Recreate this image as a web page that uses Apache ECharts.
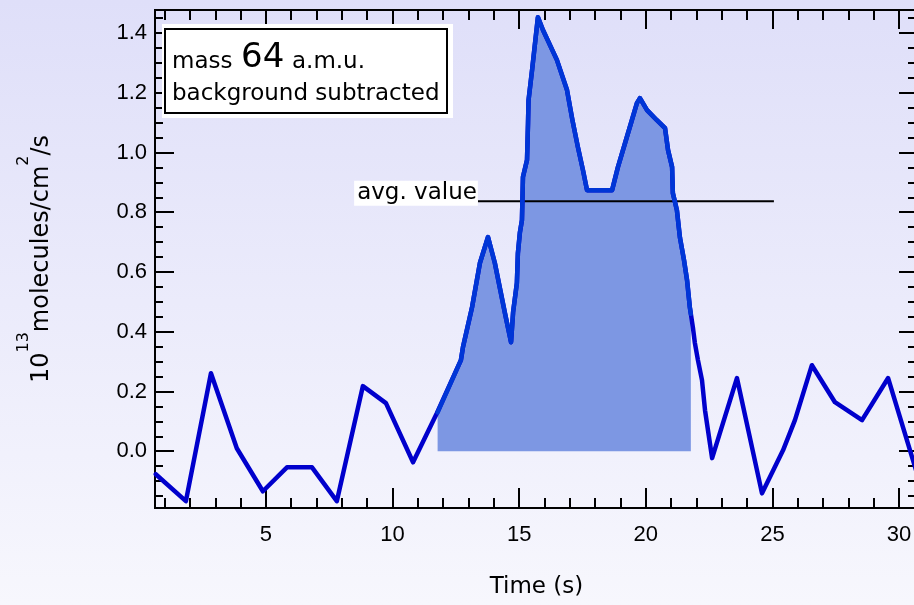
<!DOCTYPE html>
<html>
<head>
<meta charset="utf-8">
<title>mass 64 a.m.u.</title>
<script src="https://cdn.jsdelivr.net/npm/echarts@6/dist/echarts.min.js"></script>
<style>
  html, body { margin: 0; padding: 0; }
  #chart { width: 914px; height: 605px; background: linear-gradient(#dfdff9, #f7f7fd); }
</style>
</head>
<body>
<div id="chart"></div>
<script>
// time axis (s) and signal (10^13 molecules/cm^2/s)
var timeSec = [0.65, 1.84, 2.83, 3.85, 4.88, 5.83, 6.82, 7.80, 8.83, 9.74,
  10.81, 11.75, 12.70, 12.78, 13.14, 13.45, 13.77, 14.04, 14.44, 14.68,
  14.76, 14.91, 14.95, 15.03, 15.11, 15.15, 15.31, 15.35, 15.37, 15.51,
  15.74, 15.94, 16.49, 16.89, 17.10, 17.32, 17.52, 17.68, 18.67, 18.90,
  19.18, 19.45, 19.65, 19.77, 20.05, 20.44, 20.76, 20.88, 21.04, 21.07,
  21.23, 21.35, 21.51, 21.63, 21.74, 21.86, 21.94, 22.06, 22.22, 22.34,
  22.62, 23.60, 24.59, 25.42, 25.89, 26.56, 27.47, 28.54, 29.57, 30.75]
var signal = [-0.077, -0.167, 0.261, 0.010, -0.134, -0.054, -0.054, -0.167, 0.218, 0.161,
  -0.037, 0.127, 0.305, 0.348, 0.482, 0.630, 0.717, 0.630, 0.462, 0.365,
  0.465, 0.563, 0.663, 0.733, 0.774, 0.918, 0.975, 1.098, 1.175, 1.276,
  1.453, 1.410, 1.310, 1.209, 1.110, 1.018, 0.941, 0.874, 0.874, 0.951,
  1.031, 1.108, 1.165, 1.182, 1.142, 1.108, 1.082, 1.008, 0.951, 0.864,
  0.807, 0.715, 0.640, 0.573, 0.482, 0.415, 0.362, 0.305, 0.238, 0.137,
  -0.023, 0.245, -0.141, 0.003, 0.104, 0.288, 0.164, 0.104, 0.245, -0.085]

// shaded integration window (edges where the shading meets the trace)
var fillFrom = [11.78, 0.13]
var fillTo = [21.78, 0.46]

// average value line
var avgValue = 0.837
var avgSpan = [13.37, 25.06]

// ticks
var xMajorTicks = [5, 10, 15, 20, 25, 30]
var xMinorTicks = [1, 2, 3, 4, 6, 7, 8, 9, 11, 12, 13, 14, 16, 17, 18, 19,
  21, 22, 23, 24, 26, 27, 28, 29]
var yMajorTicks = [0, 0.2, 0.4, 0.6, 0.8, 1.0, 1.2, 1.4]
var yMinorTicks = [-0.15, -0.10, -0.05, 0.05, 0.10, 0.15, 0.25, 0.30, 0.35,
  0.45, 0.50, 0.55, 0.65, 0.70, 0.75, 0.85, 0.90, 0.95, 1.05, 1.10, 1.15,
  1.25, 1.30, 1.35, 1.45]

var X_MIN = 0.62, X_MAX = 30.75
var Y_MIN = -0.19, Y_MAX = 1.477

var tickFont = 'Liberation Sans'
var noteFont = 'DejaVu Sans'

var chart = echarts.init(document.getElementById('chart'), null, { renderer: 'canvas' })

var tracePoints = timeSec.map(function (t, i) { return [t, signal[i]] })
var fillPoints = [fillFrom].concat(
  tracePoints.filter(function (p) { return p[0] > fillFrom[0] && p[0] < fillTo[0] }),
  [fillTo])

// one axis that only draws a set of ticks (labels optional)
function tickAxis(pos, min, max, values, len, opts) {
  opts = opts || {}
  return Object.assign({
    type: 'value',
    position: pos,
    min: min,
    max: max,
    axisLine: { show: true, onZero: false, lineStyle: { color: '#000', width: 2 } },
    axisTick: { show: true, inside: true, length: len, customValues: values,
      lineStyle: { color: '#000', width: 2 } },
    axisLabel: { show: false },
    splitLine: { show: false },
    minorTick: { show: false },
    minorSplitLine: { show: false }
  }, opts)
}

var option = {
  animation: false,
  backgroundColor: 'transparent',
  grid: { left: 155, top: 10, width: 763, height: 498, outerBoundsMode: 'none', containLabel: false },
  xAxis: [
    tickAxis('bottom', X_MIN, X_MAX, xMajorTicks, 20, {
      axisLabel: { show: true, customValues: xMajorTicks, margin: 16,
        color: '#000', fontSize: 22, fontFamily: tickFont },
      name: 'Time (s)',
      nameLocation: 'middle',
      nameGap: 68,
      nameTextStyle: { color: '#000', fontSize: 23, fontFamily: noteFont }
    }),
    tickAxis('bottom', X_MIN, X_MAX, xMinorTicks, 10),
    tickAxis('top', X_MIN, X_MAX, xMajorTicks, 19),
    tickAxis('top', X_MIN, X_MAX, xMinorTicks, 10)
  ],
  yAxis: [
    tickAxis('left', Y_MIN, Y_MAX, yMajorTicks, 19, {
      axisLabel: { show: true, customValues: yMajorTicks, margin: 8,
        color: '#000', fontSize: 22, fontFamily: tickFont,
        formatter: function (v) { return v.toFixed(1) } },
      name: '{n|10}{s|13}{n|molecules/cm}{s|2}{n|/s}',
      nameLocation: 'middle',
      nameRotate: 90,
      nameGap: 101,
      nameTextStyle: {
        color: '#000', fontSize: 24, fontFamily: noteFont,
        rich: {
          n: { fontSize: 24, fontFamily: noteFont, color: '#000', lineHeight: 38, verticalAlign: 'bottom' },
          s: { fontSize: 16, fontFamily: noteFont, color: '#000', lineHeight: 16, verticalAlign: 'top' }
        }
      }
    }),
    tickAxis('left', Y_MIN, Y_MAX, yMinorTicks, 8),
    tickAxis('right', Y_MIN, Y_MAX, yMajorTicks, 19),
    tickAxis('right', Y_MIN, Y_MAX, yMinorTicks, 10)
  ],
  series: [
    {
      // shaded area under the peak
      name: 'window',
      type: 'line',
      data: fillPoints,
      symbol: 'none',
      lineStyle: { width: 0 },
      areaStyle: { color: '#7d97e3', opacity: 1 },
      z: 2
    },
    {
      name: 'avg. value',
      type: 'line',
      data: [[avgSpan[0], avgValue], [avgSpan[1], avgValue]],
      symbol: 'none',
      lineStyle: { color: '#000', width: 2 },
      z: 3
    },
    {
      name: 'mass 64',
      type: 'line',
      data: tracePoints,
      symbol: 'none',
      lineStyle: { color: '#0000cc', width: 4.5, cap: 'round', join: 'round' },
      z: 4
    },
    {
      // trace over the shaded window
      name: 'window trace',
      type: 'line',
      data: fillPoints,
      symbol: 'none',
      lineStyle: { color: '#0036d6', width: 4.5, cap: 'round', join: 'round' },
      z: 5
    }
  ]
}

chart.setOption(option)

// annotations: text box top-left and the avg. value label
var p = chart.convertToPixel({ xAxisIndex: 0, yAxisIndex: 0 }, [avgSpan[0], avgValue])
chart.setOption({
  graphic: [
    { type: 'rect', shape: { x: 162, y: 24, width: 291, height: 94 }, style: { fill: '#fff' }, z: 10 },
    { type: 'rect', shape: { x: 165, y: 29, width: 282, height: 84 },
      style: { fill: 'none', stroke: '#000', lineWidth: 2 }, z: 11 },
    { type: 'text', x: 172, y: 62, z: 12,
      style: { text: 'mass', font: '23px "DejaVu Sans"', fill: '#000', verticalAlign: 'middle' } },
    { type: 'text', x: 241, y: 58, z: 12,
      style: { text: '64', font: '34px "DejaVu Sans"', fill: '#000', verticalAlign: 'middle' } },
    { type: 'text', x: 292, y: 62, z: 12,
      style: { text: 'a.m.u.', font: '23px "DejaVu Sans"', fill: '#000', verticalAlign: 'middle' } },
    { type: 'text', x: 172, y: 94, z: 12,
      style: { text: 'background subtracted', font: '23px "DejaVu Sans"', fill: '#000', verticalAlign: 'middle' } },
    { type: 'text', x: p[0], y: p[1] - 8, z: 12,
      style: { text: 'avg. value', font: '23px "DejaVu Sans"', fill: '#000',
        align: 'right', verticalAlign: 'middle', backgroundColor: '#fff', padding: [1, 1, 1, 3] } }
  ]
})
</script>
</body>
</html>
